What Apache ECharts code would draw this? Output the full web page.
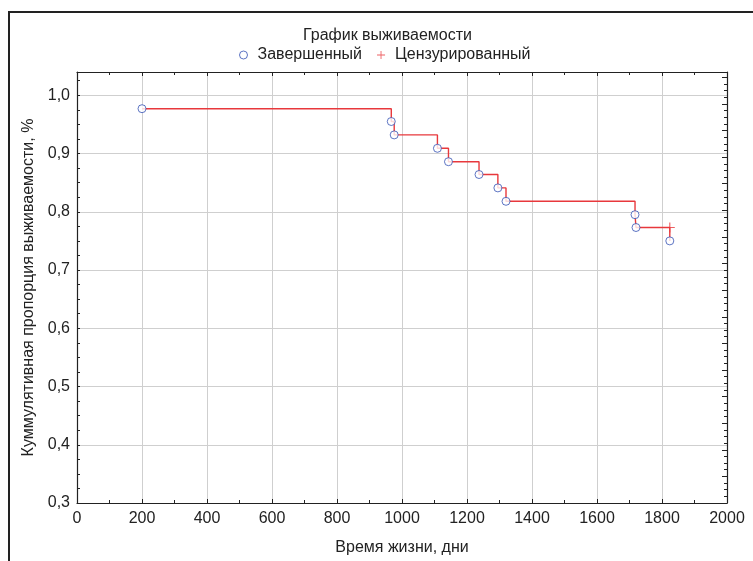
<!DOCTYPE html>
<html>
<head>
<meta charset="utf-8">
<script src="https://cdn.jsdelivr.net/npm/echarts@6/dist/echarts.min.js"></script>
<style>
  html, body { margin: 0; padding: 0; background: #fff; }
  #chart { width: 753px; height: 561px; }
</style>
</head>
<body>
<div id="chart"></div>
<script>
// время событий (дни) и оценка выживаемости после события
const eventTimes = [200, 967, 976, 1109, 1143, 1237, 1295, 1320, 1717, 1720, 1824]
const eventSurv = [0.977, 0.955, 0.932, 0.909, 0.886, 0.864, 0.841, 0.818, 0.795, 0.773, 0.750]
// цензурированные наблюдения
const censTimes = [1824]
const censSurv = [0.773]

const xTicks = [0, 2000, 200]      // min, max, шаг
const yTicks = [0.3, 1.04, 0.1]

const titleText = 'График выживаемости'
const legendNames = ['Завершенный', 'Цензурированный']
const xName = 'Время жизни, дни'
const yName = 'Куммулятивная пропорция выживаемости, %'

const font = 'Liberation Sans, Arial, sans-serif'
const fontSize = 16
const textColor = '#222'
const blue = '#3652b4'
const red = '#e8383c'
const plusPath = 'path://M4,0h1v4h4v1h-4v4h-1v-4h-4v-1h4z'

const eventData = eventTimes.map((t, i) => [t, eventSurv[i]])
const censData = censTimes.map((t, i) => [t, censSurv[i]])

const chart = echarts.init(document.getElementById('chart'))

const tickAxisBase = {
  type: 'value',
  axisLabel: { show: false },
  splitLine: { show: false },
  axisLine: { show: false }
}

chart.setOption({
  animation: false,
  backgroundColor: '#fff',
  title: {
    text: titleText,
    left: 298,
    top: 23,
    textStyle: { fontFamily: font, fontSize: fontSize, fontWeight: 'normal', color: textColor }
  },
  legend: {
    top: 42,
    left: 234,
    itemGap: 15,
    itemWidth: 18,
    itemHeight: 8,
    textStyle: { fontFamily: font, fontSize: fontSize, color: textColor },
    data: [
      { name: legendNames[0], icon: 'circle', itemStyle: { color: '#fff', borderColor: blue, borderWidth: 1 } },
      { name: legendNames[1], icon: plusPath, itemStyle: { color: red } }
    ]
  },
  graphic: [{
    type: 'rect',
    shape: { x: 9, y: 12, width: 800, height: 600 },
    style: { fill: 'none', stroke: '#222', lineWidth: 2 },
    silent: true
  }],
  grid: { left: 77, right: 26, top: 72, bottom: 57 },
  xAxis: [{
    type: 'value',
    position: 'bottom',
    min: xTicks[0], max: xTicks[1], interval: xTicks[2],
    name: xName,
    nameLocation: 'middle',
    nameGap: 37,
    nameTextStyle: { fontFamily: font, fontSize: fontSize, color: textColor },
    axisLine: { show: true, onZero: false, lineStyle: { color: '#222', width: 1.2 } },
    axisTick: { show: true, inside: true, length: 4, lineStyle: { color: '#222' } },
    minorTick: { show: true, splitNumber: 2, length: 3, lineStyle: { color: '#222' } },
    axisLabel: { margin: 8, fontFamily: font, fontSize: fontSize, color: textColor, formatter: v => String(v) },
    splitLine: { show: true, lineStyle: { color: '#cfcfcf', width: 1 } }
  }, Object.assign({}, tickAxisBase, {
    position: 'top',
    min: xTicks[0], max: xTicks[1], interval: xTicks[2],
    axisLine: { show: true, onZero: false, lineStyle: { color: '#222', width: 1.2 } },
    axisTick: { show: true, inside: true, length: 4, lineStyle: { color: '#222' } },
    minorTick: { show: true, splitNumber: 2, length: 3, lineStyle: { color: '#222' } }
  })],
  yAxis: [{
    type: 'value',
    position: 'left',
    min: yTicks[0], max: yTicks[1], interval: yTicks[2],
    name: yName,
    nameLocation: 'middle',
    nameGap: 38,
    nameTextStyle: { fontFamily: font, fontSize: fontSize, color: textColor },
    axisLine: { show: true, onZero: false, lineStyle: { color: '#222', width: 1.2 } },
    axisTick: { show: false },
    axisLabel: {
      margin: 7, fontFamily: font, fontSize: fontSize, color: textColor,
      showMaxLabel: false,
      formatter: v => (Math.abs(v * 10 - Math.round(v * 10)) < 1e-6 ? v.toFixed(1).replace('.', ',') : '')
    },
    splitLine: { show: true, lineStyle: { color: '#cfcfcf', width: 1 } }
  }, Object.assign({}, tickAxisBase, {
    position: 'left',
    min: yTicks[0], max: yTicks[1], interval: 0.025,
    axisTick: { show: true, inside: true, length: 3, lineStyle: { color: '#222' } }
  }), Object.assign({}, tickAxisBase, {
    position: 'right',
    min: 0, max: 64.8, interval: 4,
    axisLine: { show: true, onZero: false, lineStyle: { color: '#222', width: 1.2 } },
    axisTick: { show: true, inside: true, length: 5, lineStyle: { color: '#222' } },
    minorTick: { show: true, splitNumber: 4, length: 3, lineStyle: { color: '#222' } }
  })],
  series: [{
    name: 'step',
    type: 'line',
    step: 'end',
    data: eventData,
    showSymbol: false,
    symbol: 'none',
    lineStyle: { color: red, width: 1.4 },
    z: 2
  }, {
    name: legendNames[0],
    type: 'scatter',
    data: eventData,
    symbol: 'circle',
    symbolSize: 8,
    itemStyle: { color: '#fff', borderColor: blue, borderWidth: 1 },
    z: 3
  }, {
    name: legendNames[1],
    type: 'scatter',
    data: censData,
    symbol: plusPath,
    symbolSize: 10,
    itemStyle: { color: red },
    z: 3
  }]
})
</script>
</body>
</html>
